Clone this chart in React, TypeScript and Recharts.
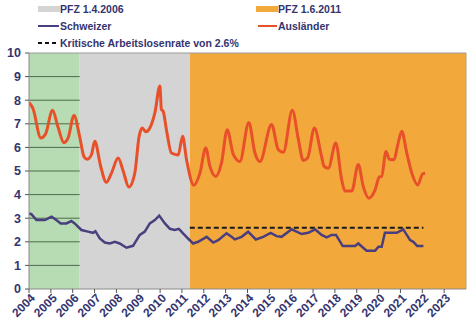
import React from 'react';
import { LineChart, Line, XAxis, YAxis, ReferenceArea, ReferenceLine } from 'recharts';

const years = [2004, 2005, 2006, 2007, 2008, 2009, 2010, 2011, 2012, 2013, 2014, 2015, 2016, 2017, 2018, 2019, 2020, 2021, 2022, 2023];
const yTicks = [0, 1, 2, 3, 4, 5, 6, 7, 8, 9, 10];

const auslaenderT = [2004.0, 2004.18, 2004.54, 2004.75, 2005.08, 2005.33, 2005.6, 2005.79, 2006.06, 2006.32, 2006.52, 2006.67, 2006.86, 2007.01, 2007.28, 2007.54, 2007.77, 2008.08, 2008.31, 2008.57, 2008.84, 2009.04, 2009.19, 2009.35, 2009.53, 2009.76, 2009.99, 2010.06, 2010.14, 2010.29, 2010.52, 2010.83, 2011.03, 2011.21, 2011.55, 2011.82, 2012.09, 2012.28, 2012.55, 2012.81, 2013.07, 2013.35, 2013.65, 2014.06, 2014.34, 2014.57, 2015.1, 2015.41, 2015.64, 2016.05, 2016.33, 2016.55, 2016.75, 2017.06, 2017.39, 2017.51, 2017.7, 2018.04, 2018.31, 2018.46, 2018.77, 2019.07, 2019.3, 2019.55, 2019.84, 2020.03, 2020.14, 2020.34, 2020.49, 2020.71, 2020.86, 2021.06, 2021.29, 2021.52, 2021.79, 2022.02, 2022.13];
const auslaenderV = [7.9, 7.65, 6.4, 6.55, 7.57, 6.85, 6.2, 6.4, 7.35, 6.45, 5.6, 5.5, 5.7, 6.26, 5.2, 4.52, 4.9, 5.55, 5.0, 4.32, 4.9, 6.47, 6.82, 6.66, 6.82, 7.46, 8.6, 7.6, 7.53, 6.75, 5.76, 5.68, 6.47, 5.48, 4.4, 4.9, 5.97, 5.2, 4.77, 5.34, 6.75, 5.7, 5.4, 7.06, 5.76, 5.4, 6.97, 5.9, 5.79, 7.57, 6.33, 5.45, 5.55, 6.82, 5.62, 5.19, 5.12, 6.19, 4.63, 4.15, 4.15, 5.28, 4.34, 3.85, 4.2, 4.74, 4.77, 5.83, 5.5, 5.48, 6.04, 6.68, 5.76, 4.91, 4.41, 4.88, 4.9];

const schweizerT = [2004.0, 2004.11, 2004.34, 2004.54, 2004.72, 2005.03, 2005.25, 2005.45, 2005.71, 2005.94, 2006.09, 2006.4, 2006.7, 2006.93, 2007.04, 2007.24, 2007.47, 2007.7, 2007.93, 2008.15, 2008.46, 2008.76, 2009.07, 2009.3, 2009.53, 2009.76, 2009.96, 2010.22, 2010.45, 2010.67, 2010.86, 2011.05, 2011.28, 2011.51, 2011.74, 2012.13, 2012.43, 2012.66, 2013.04, 2013.27, 2013.42, 2013.73, 2014.03, 2014.38, 2014.72, 2015.06, 2015.33, 2015.56, 2016.02, 2016.48, 2016.78, 2017.09, 2017.39, 2017.62, 2017.85, 2018.05, 2018.36, 2018.92, 2019.07, 2019.45, 2019.84, 2019.99, 2020.14, 2020.29, 2020.83, 2021.13, 2021.44, 2021.59, 2021.77, 2022.05];
const schweizerV = [3.2, 3.17, 2.92, 2.92, 2.92, 3.06, 2.92, 2.78, 2.78, 2.88, 2.78, 2.5, 2.43, 2.38, 2.45, 2.14, 1.97, 1.93, 2.0, 1.93, 1.75, 1.83, 2.29, 2.43, 2.78, 2.92, 3.11, 2.78, 2.55, 2.5, 2.55, 2.36, 2.14, 1.93, 2.0, 2.21, 1.97, 2.07, 2.36, 2.21, 2.1, 2.21, 2.43, 2.1, 2.21, 2.38, 2.24, 2.21, 2.53, 2.33, 2.38, 2.53, 2.29, 2.19, 2.29, 2.29, 1.82, 1.82, 1.93, 1.62, 1.62, 1.79, 1.79, 2.38, 2.38, 2.53, 2.07, 2.0, 1.82, 1.82];

const kritischT = [2011.36, 2022.05];
const kritischV = [2.6, 2.6];

const bandGreen = [2004, 2006.32];
const bandGray = [2006.32, 2011.36];
const bandOrange = [2011.36, 2024];
const gridLevels = [1, 2, 3, 4, 5, 6, 7, 8, 9];

const toRows = (t: number[], v: number[]) => t.map((x, i) => ({ t: x, v: v[i] }));
const auslaender = toRows(auslaenderT, auslaenderV);
const schweizer = toRows(schweizerT, schweizerV);
const kritisch = toRows(kritischT, kritischV);

const TXT = '#34346e';
const FONT = '"Liberation Sans", Arial, sans-serif';

const XTick = (props: any) => {
  const { x, y, payload } = props;
  return (
    <g transform={`translate(${x + 4},${y + 1})`}>
      <text x={0} y={0} transform="rotate(-45)" textAnchor="end" fontSize={12} fontWeight="bold" fill={TXT} fontFamily={FONT} dominantBaseline="central">
        {payload.value}
      </text>
    </g>
  );
};

const LegendBox = () => {
  const txt = { position: 'absolute' as const, fontSize: 10.5, fontWeight: 'bold' as const, color: TXT, fontFamily: FONT, whiteSpace: 'nowrap' as const, lineHeight: '12px' };
  return (
    <div style={{ position: 'absolute', left: 0, top: 0, width: 475, height: 50, pointerEvents: 'none' }}>
      <div style={{ position: 'absolute', left: 38, top: 6, width: 22, height: 6, background: '#d4d4d4' }} />
      <div style={{ ...txt, left: 60, top: 3 }}>PFZ 1.4.2006</div>
      <div style={{ position: 'absolute', left: 256, top: 6, width: 22, height: 6, background: '#f2a93b' }} />
      <div style={{ ...txt, left: 278, top: 3 }}>PFZ 1.6.2011</div>
      <div style={{ position: 'absolute', left: 38, top: 25, width: 21, height: 2, background: '#4a3f7e' }} />
      <div style={{ ...txt, left: 60, top: 20 }}>Schweizer</div>
      <div style={{ position: 'absolute', left: 258, top: 25, width: 19, height: 2, background: '#e8502a' }} />
      <div style={{ ...txt, left: 278, top: 20 }}>Ausländer</div>
      <svg style={{ position: 'absolute', left: 38, top: 41 }} width={20} height={4}>
        <line x1={0} y1={2} x2={18} y2={2} stroke="#111" strokeWidth={2} strokeDasharray="4 3" />
      </svg>
      <div style={{ ...txt, left: 60, top: 37 }}>Kritische Arbeitslosenrate von 2.6%</div>
    </div>
  );
};

export default function App() {
  return (
    <div style={{ position: 'fixed', left: 0, top: 0, width: 475, height: 329, background: '#ffffff' }}>
      <LineChart width={475} height={329} margin={{ top: 53, right: 9, bottom: 0, left: 0 }}>
        <ReferenceArea x1={bandGreen[0]} x2={bandGreen[1]} y1={0} y2={10} fill="#b7dbb3" fillOpacity={1} stroke="none" />
        <ReferenceArea x1={bandGray[0]} x2={bandGray[1]} y1={0} y2={10} fill="#d4d4d4" fillOpacity={1} stroke="none" />
        <ReferenceArea x1={bandOrange[0]} x2={bandOrange[1]} y1={0} y2={10} fill="#f3a83c" fillOpacity={1} stroke="none" />
        {gridLevels.map((g) => (
          <ReferenceLine key={g} segment={[{ x: bandGreen[0], y: g }, { x: bandGreen[1], y: g }]} stroke="#4f6b4f" strokeWidth={1} />
        ))}
        <ReferenceLine y={10} stroke="#9a9a9a" strokeWidth={1} />
        <ReferenceLine x={2024} stroke="#b0a080" strokeWidth={1} />
        <XAxis
          type="number"
          dataKey="t"
          domain={[2004, 2024]}
          ticks={years}
          interval={0}
          allowDataOverflow
          height={40}
          tick={<XTick />}
          tickLine={{ stroke: '#555' }}
          tickSize={4}
          axisLine={{ stroke: '#8a8a8a' }}
        />
        <YAxis
          type="number"
          domain={[0, 10]}
          ticks={yTicks}
          interval={0}
          width={29}
          tickSize={4}
          tickMargin={4}
          tickLine={{ stroke: '#555' }}
          axisLine={{ stroke: '#8a8a8a' }}
          tick={{ fontSize: 12.5, fontWeight: 'bold', fill: TXT, fontFamily: FONT }}
        />
        <Line data={kritisch} dataKey="v" type="linear" stroke="#1a1a1a" strokeWidth={2} strokeDasharray="5 3" dot={false} isAnimationActive={false} />
        <Line data={schweizer} dataKey="v" type="linear" stroke="#4a3f7e" strokeWidth={2.5} dot={false} isAnimationActive={false} />
        <Line data={auslaender} dataKey="v" type="monotone" stroke="#e8502a" strokeWidth={3} dot={false} isAnimationActive={false} />
      </LineChart>
      <LegendBox />
    </div>
  );
}
